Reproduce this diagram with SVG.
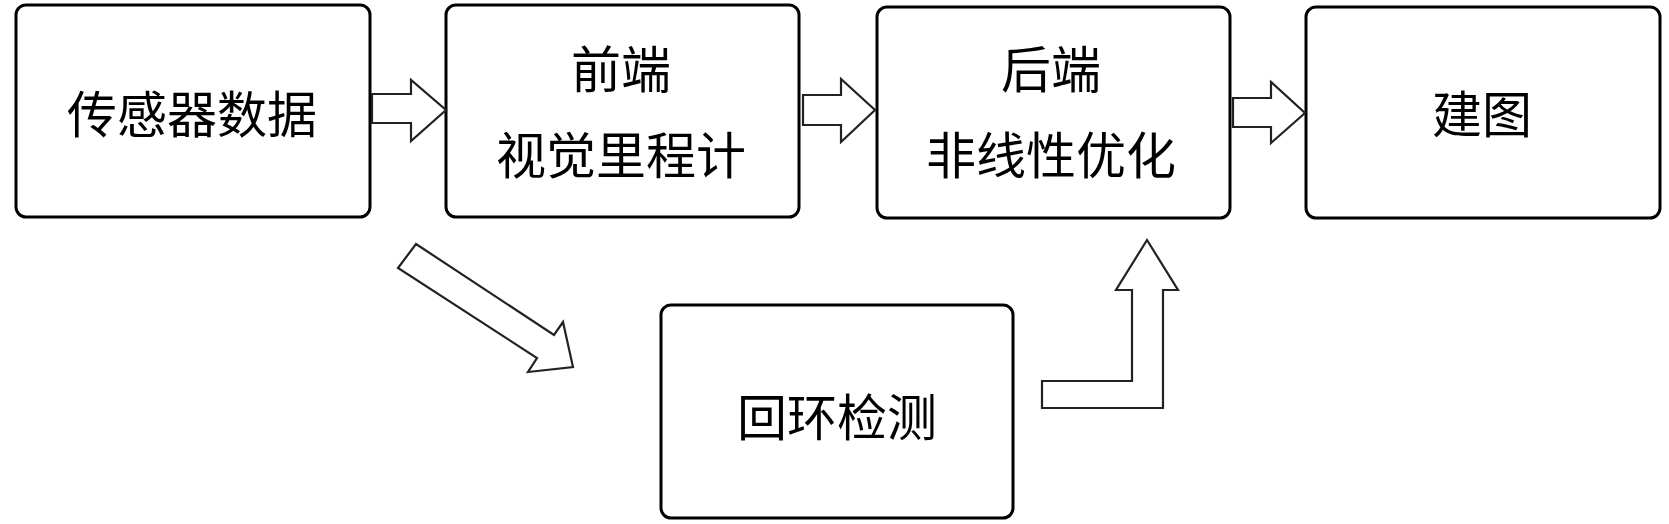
<svg xmlns="http://www.w3.org/2000/svg" width="1669" height="524" viewBox="0 0 1669 524">
<style>
.box{fill:#fff;stroke:#000;stroke-width:3}
.lbl{font-family:"Noto Sans CJK SC","Noto Sans",sans-serif;font-size:50px;fill:#000;text-anchor:middle}
.arr{fill:#fff;stroke:#222;stroke-width:2.2;stroke-linejoin:miter}
</style>
<rect width="1669" height="524" fill="#fff"/>
<g id="n-sensor"><rect class="box" x="16" y="5" width="354" height="212" rx="10"/><text class="lbl" x="192" y="133">传感器数据</text></g>
<g id="n-frontend"><rect class="box" x="446" y="5" width="353" height="212" rx="10"/><text class="lbl" x="621" y="88">前端</text><text class="lbl" x="621" y="174">视觉里程计</text></g>
<g id="n-backend"><rect class="box" x="877" y="7" width="353" height="211" rx="10"/><text class="lbl" x="1051" y="88">后端</text><text class="lbl" x="1051" y="174">非线性优化</text></g>
<g id="n-map"><rect class="box" x="1306" y="7" width="354" height="211" rx="10"/><text class="lbl" x="1482" y="133">建图</text></g>
<g id="n-loop"><rect class="box" x="661" y="305" width="352" height="213" rx="10"/><text class="lbl" x="837" y="436">回环检测</text></g>
<g id="connectors">
<polygon class="arr" points="372,94 411,94 411,80 446,110 411,141 411,123 372,123"/>
<polygon class="arr" points="803,95 841,95 841,79 875,110 841,142 841,125 803,125"/>
<polygon class="arr" points="1233,98 1271,98 1271,82 1305,113 1271,143 1271,127 1233,127"/>
<polygon class="arr" points="416,244 554,335 563,322 573,367 528,372 537,358 398,268"/>
<polygon class="arr" points="1042,381 1132,381 1132,290 1116,290 1147,240 1178,290 1163,290 1163,408 1042,408"/>
</g>
</svg>
